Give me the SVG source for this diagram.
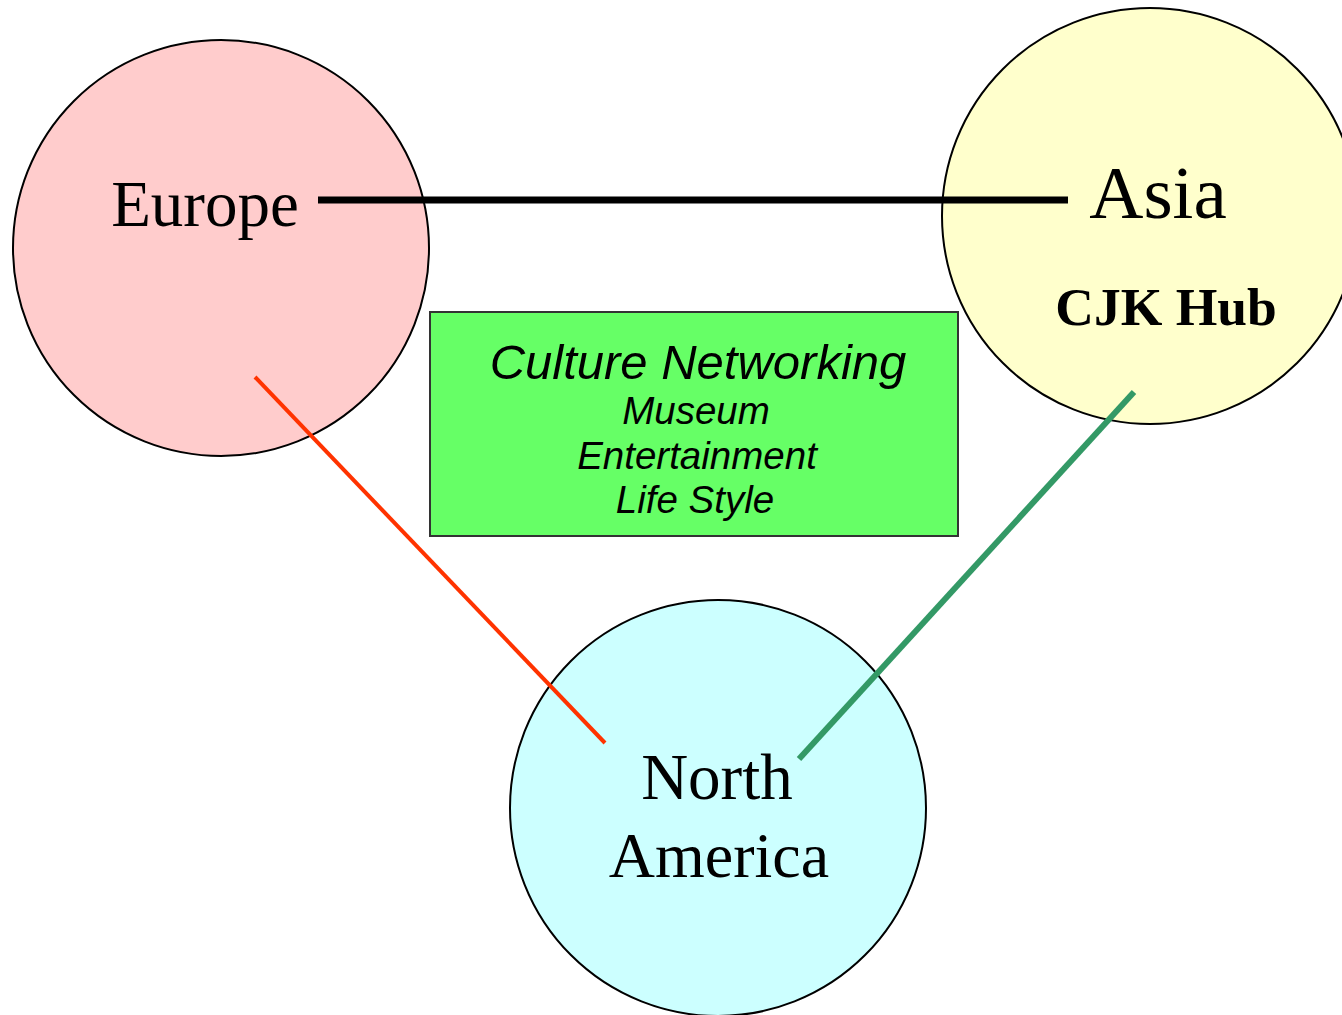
<svg xmlns="http://www.w3.org/2000/svg" width="1342" height="1015" viewBox="0 0 1342 1015">
<style>
.circ{stroke:#000;stroke-width:2}
.big{font-family:"Liberation Serif","Times New Roman",serif;font-size:65px;fill:#000;text-anchor:middle}
.hub{font-family:"Liberation Serif","Times New Roman",serif;font-size:53.5px;font-weight:bold;fill:#000;text-anchor:middle}
.it{font-family:"Liberation Sans",Arial,sans-serif;font-style:italic;fill:#000;text-anchor:middle}
</style>
<rect width="1342" height="1015" fill="#fff"/>
<g id="europe">
<circle class="circ" cx="221" cy="248" r="208" fill="#FFCCCC"/>
<text class="big" x="205" y="226">Europe</text>
</g>
<g id="asia">
<circle class="circ" cx="1150" cy="216" r="208" fill="#FFFFCC"/>
<text class="big" x="1158" y="218" style="font-size:75px">Asia</text>
<text class="hub" x="1166" y="325">CJK Hub</text>
</g>
<g id="north-america">
<circle class="circ" cx="718" cy="808" r="208" fill="#CCFFFF"/>
<text class="big" x="717" y="799">North</text>
<text class="big" x="719" y="877" style="font-size:64px">America</text>
</g>
<g id="culture">
<rect x="430" y="312" width="528" height="224" fill="#66FF66" stroke="#333" stroke-width="2"/>
<text class="it" x="698" y="379" style="font-size:49px">Culture Networking</text>
<text class="it" x="696" y="424" style="font-size:38.5px">Museum</text>
<text class="it" x="697" y="469" style="font-size:38.5px">Entertainment</text>
<text class="it" x="695" y="513" style="font-size:38.5px">Life Style</text>
</g>
<g id="connectors" fill="none">
<line x1="318" y1="200" x2="1068" y2="200" stroke="#000" stroke-width="7"/>
<line x1="255" y1="377" x2="605" y2="743" stroke="#FF3300" stroke-width="4"/>
<line x1="1134" y1="392" x2="799" y2="759" stroke="#339966" stroke-width="6"/>
</g>
</svg>
